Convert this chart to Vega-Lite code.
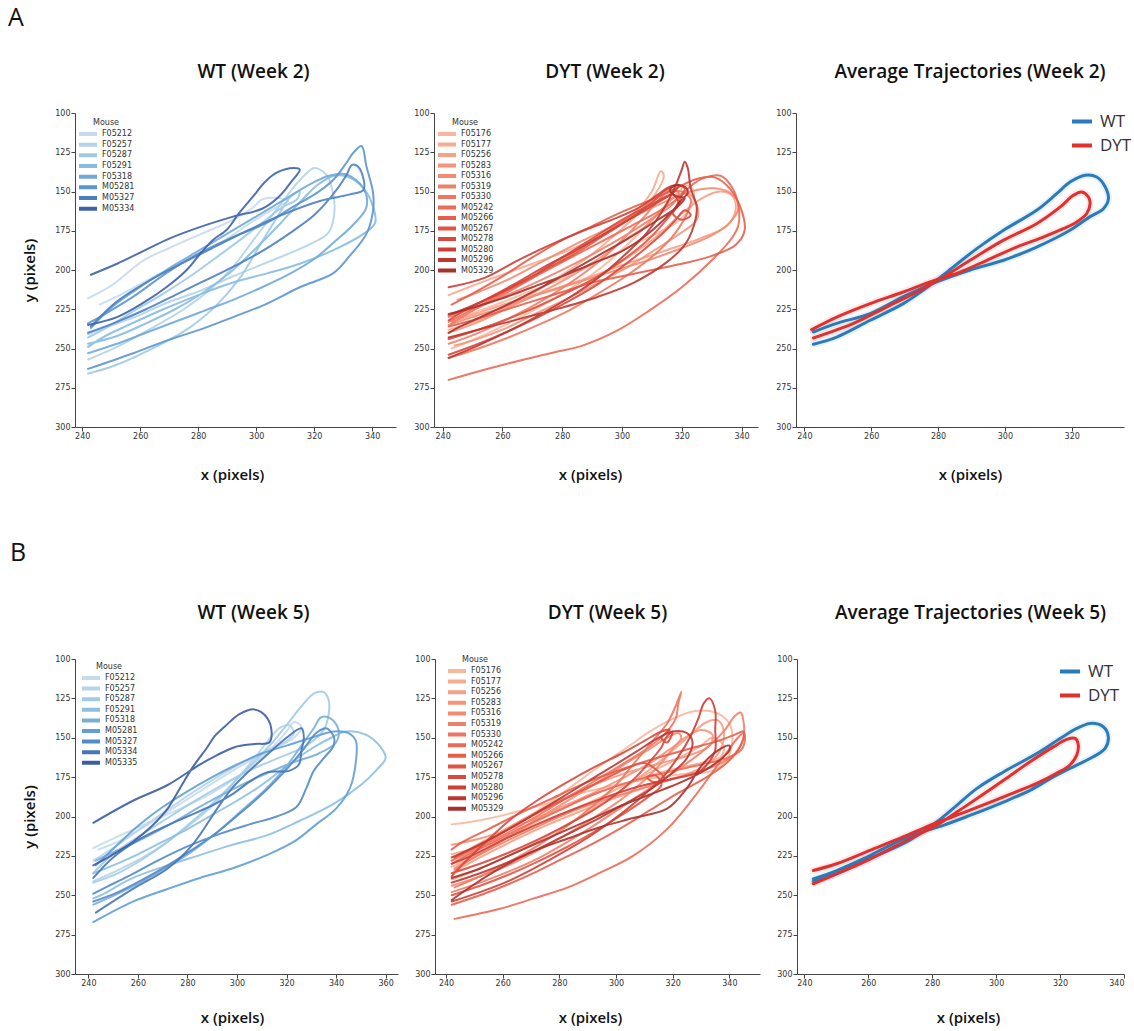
{
"$schema": "https://vega.github.io/schema/vega-lite/v6.json",
"background": "white",
"padding": {"left": 8, "top": 6, "right": 5, "bottom": 5},
"config": {
  "view": {"stroke": null},
  "font": "Open Sans",
  "axis": {"grid": false, "labelFont": "DejaVu Sans", "labelFontSize": 8, "labelColor": "#333", "domainColor": "#444", "tickColor": "#444", "tickSize": 4, "labelPadding": 1, "titleFont": "Open Sans", "titleFontSize": 15, "titleFontWeight": 600, "titleColor": "#111"},
  "axisX": {"titlePadding": 27},
  "axisY": {"titlePadding": 17},
  "title": {"font": "Open Sans", "fontSize": 19, "fontWeight": 600, "color": "#111", "offset": 27},
  "legend": {"labelFont": "DejaVu Sans", "titleFont": "DejaVu Sans", "labelColor": "#333", "titleColor": "#333"},
  "line": {"interpolate": "catmull-rom", "strokeCap": "round"}
},
"datasets": {
"a1": [
{"m":"F05212","x":242,"y":218},{"m":"F05212","x":250,"y":210},{"m":"F05212","x":261,"y":194},{"m":"F05212","x":270,"y":186},{"m":"F05212","x":281,"y":177},{"m":"F05212","x":292,"y":168},{"m":"F05212","x":299,"y":160},{"m":"F05212","x":302,"y":155},{"m":"F05212","x":306,"y":154},{"m":"F05212","x":311,"y":156},{"m":"F05212","x":306,"y":161},{"m":"F05212","x":298,"y":170},{"m":"F05212","x":290,"y":180},{"m":"F05212","x":282,"y":189},{"m":"F05212","x":273,"y":197},{"m":"F05212","x":263,"y":206},{"m":"F05212","x":254,"y":215},{"m":"F05212","x":246,"y":222},
{"m":"F05257","x":242,"y":257},{"m":"F05257","x":252,"y":249},{"m":"F05257","x":263,"y":238},{"m":"F05257","x":275,"y":225},{"m":"F05257","x":285,"y":211},{"m":"F05257","x":292,"y":198},{"m":"F05257","x":299,"y":181},{"m":"F05257","x":306,"y":164},{"m":"F05257","x":313,"y":147},{"m":"F05257","x":317,"y":139},{"m":"F05257","x":320,"y":135},{"m":"F05257","x":324,"y":139},{"m":"F05257","x":326,"y":147},{"m":"F05257","x":327,"y":162},{"m":"F05257","x":325,"y":176},{"m":"F05257","x":318,"y":184},{"m":"F05257","x":304,"y":195},{"m":"F05257","x":292,"y":204},{"m":"F05257","x":281,"y":213},{"m":"F05257","x":269,"y":221},{"m":"F05257","x":258,"y":230},{"m":"F05257","x":246,"y":238},{"m":"F05257","x":242,"y":241},
{"m":"F05287","x":242,"y":266},{"m":"F05287","x":251,"y":261},{"m":"F05287","x":262,"y":252},{"m":"F05287","x":276,"y":238},{"m":"F05287","x":286,"y":223},{"m":"F05287","x":294,"y":206},{"m":"F05287","x":301,"y":185},{"m":"F05287","x":308,"y":164},{"m":"F05287","x":312,"y":153},{"m":"F05287","x":315,"y":150},{"m":"F05287","x":314,"y":155},{"m":"F05287","x":309,"y":160},{"m":"F05287","x":302,"y":170},{"m":"F05287","x":295,"y":180},{"m":"F05287","x":287,"y":191},{"m":"F05287","x":278,"y":203},{"m":"F05287","x":268,"y":215},{"m":"F05287","x":257,"y":227},{"m":"F05287","x":249,"y":236},{"m":"F05287","x":242,"y":243},
{"m":"F05291","x":242,"y":247},{"m":"F05291","x":252,"y":242},{"m":"F05291","x":262,"y":234},{"m":"F05291","x":272,"y":225},{"m":"F05291","x":282,"y":214},{"m":"F05291","x":292,"y":200},{"m":"F05291","x":300,"y":186},{"m":"F05291","x":308,"y":171},{"m":"F05291","x":315,"y":157},{"m":"F05291","x":321,"y":146},{"m":"F05291","x":327,"y":140},{"m":"F05291","x":332,"y":141},{"m":"F05291","x":337,"y":148},{"m":"F05291","x":340,"y":158},{"m":"F05291","x":341,"y":170},{"m":"F05291","x":337,"y":177},{"m":"F05291","x":327,"y":187},{"m":"F05291","x":315,"y":196},{"m":"F05291","x":304,"y":202},{"m":"F05291","x":292,"y":208},{"m":"F05291","x":280,"y":216},{"m":"F05291","x":268,"y":225},{"m":"F05291","x":256,"y":235},{"m":"F05291","x":247,"y":243},{"m":"F05291","x":242,"y":249},
{"m":"F05318","x":242,"y":253},{"m":"F05318","x":252,"y":247},{"m":"F05318","x":262,"y":240},{"m":"F05318","x":272,"y":233},{"m":"F05318","x":282,"y":226},{"m":"F05318","x":292,"y":219},{"m":"F05318","x":302,"y":211},{"m":"F05318","x":312,"y":202},{"m":"F05318","x":320,"y":193},{"m":"F05318","x":327,"y":182},{"m":"F05318","x":333,"y":172},{"m":"F05318","x":338,"y":160},{"m":"F05318","x":337,"y":148},{"m":"F05318","x":331,"y":139},{"m":"F05318","x":325,"y":140},{"m":"F05318","x":318,"y":146},{"m":"F05318","x":309,"y":156},{"m":"F05318","x":299,"y":167},{"m":"F05318","x":289,"y":178},{"m":"F05318","x":279,"y":189},{"m":"F05318","x":269,"y":200},{"m":"F05318","x":259,"y":212},{"m":"F05318","x":250,"y":224},{"m":"F05318","x":243,"y":237},
{"m":"M05281","x":242,"y":263},{"m":"M05281","x":257.6,"y":253},{"m":"M05281","x":269,"y":245},{"m":"M05281","x":280.6,"y":238},{"m":"M05281","x":292,"y":230},{"m":"M05281","x":303,"y":222},{"m":"M05281","x":315,"y":211},{"m":"M05281","x":326.6,"y":202},{"m":"M05281","x":332,"y":191.5},{"m":"M05281","x":338,"y":177},{"m":"M05281","x":340.3,"y":162},{"m":"M05281","x":340.3,"y":151},{"m":"M05281","x":338,"y":134},{"m":"M05281","x":336.3,"y":121},{"m":"M05281","x":333.4,"y":125.5},{"m":"M05281","x":331,"y":132},{"m":"M05281","x":326.6,"y":142.5},{"m":"M05281","x":320.8,"y":151},{"m":"M05281","x":312.8,"y":159.6},{"m":"M05281","x":303.6,"y":170},{"m":"M05281","x":292,"y":179},{"m":"M05281","x":280.6,"y":189},{"m":"M05281","x":269,"y":202},{"m":"M05281","x":257.6,"y":217},{"m":"M05281","x":246,"y":230},{"m":"M05281","x":242,"y":234},
{"m":"M05327","x":242,"y":240},{"m":"M05327","x":252,"y":233},{"m":"M05327","x":262,"y":225},{"m":"M05327","x":272,"y":216},{"m":"M05327","x":282,"y":207},{"m":"M05327","x":292,"y":198},{"m":"M05327","x":302,"y":188},{"m":"M05327","x":312,"y":176},{"m":"M05327","x":320,"y":165},{"m":"M05327","x":326,"y":153},{"m":"M05327","x":331,"y":140},{"m":"M05327","x":333,"y":133},{"m":"M05327","x":335,"y":134},{"m":"M05327","x":337,"y":142},{"m":"M05327","x":337,"y":149},{"m":"M05327","x":332,"y":152},{"m":"M05327","x":322,"y":156},{"m":"M05327","x":310,"y":164},{"m":"M05327","x":298,"y":174},{"m":"M05327","x":286,"y":185},{"m":"M05327","x":274,"y":196},{"m":"M05327","x":262,"y":208},{"m":"M05327","x":252,"y":220},{"m":"M05327","x":243,"y":236},
{"m":"M05334","x":243,"y":203},{"m":"M05334","x":252,"y":196},{"m":"M05334","x":261,"y":188},{"m":"M05334","x":270,"y":180},{"m":"M05334","x":280,"y":173},{"m":"M05334","x":292,"y":166},{"m":"M05334","x":302,"y":161},{"m":"M05334","x":308,"y":153},{"m":"M05334","x":312,"y":144},{"m":"M05334","x":315,"y":136},{"m":"M05334","x":313,"y":135},{"m":"M05334","x":307,"y":138},{"m":"M05334","x":303,"y":144},{"m":"M05334","x":299,"y":153},{"m":"M05334","x":294,"y":164},{"m":"M05334","x":290,"y":174},{"m":"M05334","x":285,"y":181},{"m":"M05334","x":281,"y":189},{"m":"M05334","x":276,"y":200},{"m":"M05334","x":269,"y":211},{"m":"M05334","x":261,"y":221},{"m":"M05334","x":252,"y":230},{"m":"M05334","x":242,"y":235}
],
"a2": [
{"m":"F05176","x":243,"y":250},{"m":"F05176","x":252,"y":243},{"m":"F05176","x":262,"y":234},{"m":"F05176","x":272,"y":224},{"m":"F05176","x":282,"y":213},{"m":"F05176","x":292,"y":200},{"m":"F05176","x":300,"y":187},{"m":"F05176","x":307,"y":174},{"m":"F05176","x":313,"y":162},{"m":"F05176","x":318,"y":152},{"m":"F05176","x":322,"y":146},{"m":"F05176","x":324,"y":150},{"m":"F05176","x":323,"y":160},{"m":"F05176","x":318,"y":170},{"m":"F05176","x":308,"y":180},{"m":"F05176","x":295,"y":192},{"m":"F05176","x":282,"y":204},{"m":"F05176","x":270,"y":213},{"m":"F05176","x":258,"y":222},{"m":"F05176","x":248,"y":229},{"m":"F05176","x":243,"y":232},
{"m":"F05177","x":242,"y":216},{"m":"F05177","x":250,"y":210},{"m":"F05177","x":260,"y":203},{"m":"F05177","x":270,"y":196},{"m":"F05177","x":280,"y":189},{"m":"F05177","x":290,"y":181},{"m":"F05177","x":298,"y":172},{"m":"F05177","x":305,"y":162},{"m":"F05177","x":310,"y":150},{"m":"F05177","x":313,"y":137},{"m":"F05177","x":314,"y":140},{"m":"F05177","x":311,"y":152},{"m":"F05177","x":305,"y":165},{"m":"F05177","x":298,"y":177},{"m":"F05177","x":290,"y":190},{"m":"F05177","x":280,"y":203},{"m":"F05177","x":270,"y":215},{"m":"F05177","x":259,"y":226},{"m":"F05177","x":249,"y":234},{"m":"F05177","x":242,"y":238},
{"m":"F05256","x":242,"y":244},{"m":"F05256","x":252,"y":238},{"m":"F05256","x":262,"y":231},{"m":"F05256","x":272,"y":223},{"m":"F05256","x":282,"y":214},{"m":"F05256","x":292,"y":204},{"m":"F05256","x":302,"y":192},{"m":"F05256","x":312,"y":178},{"m":"F05256","x":320,"y":164},{"m":"F05256","x":327,"y":154},{"m":"F05256","x":333,"y":150},{"m":"F05256","x":337,"y":153},{"m":"F05256","x":338,"y":162},{"m":"F05256","x":335,"y":172},{"m":"F05256","x":326,"y":180},{"m":"F05256","x":314,"y":188},{"m":"F05256","x":300,"y":197},{"m":"F05256","x":287,"y":206},{"m":"F05256","x":274,"y":214},{"m":"F05256","x":262,"y":221},{"m":"F05256","x":251,"y":228},{"m":"F05256","x":243,"y":233},
{"m":"F05283","x":242,"y":240},{"m":"F05283","x":252,"y":233},{"m":"F05283","x":262,"y":224},{"m":"F05283","x":272,"y":215},{"m":"F05283","x":282,"y":205},{"m":"F05283","x":292,"y":193},{"m":"F05283","x":300,"y":182},{"m":"F05283","x":308,"y":172},{"m":"F05283","x":314,"y":160},{"m":"F05283","x":318,"y":153},{"m":"F05283","x":322,"y":151},{"m":"F05283","x":325,"y":158},{"m":"F05283","x":325,"y":168},{"m":"F05283","x":320,"y":176},{"m":"F05283","x":312,"y":186},{"m":"F05283","x":302,"y":198},{"m":"F05283","x":292,"y":208},{"m":"F05283","x":282,"y":218},{"m":"F05283","x":271,"y":228},{"m":"F05283","x":260,"y":238},{"m":"F05283","x":250,"y":245},{"m":"F05283","x":244,"y":248},
{"m":"F05316","x":242,"y":235},{"m":"F05316","x":250,"y":230},{"m":"F05316","x":260,"y":224},{"m":"F05316","x":270,"y":217},{"m":"F05316","x":280,"y":211},{"m":"F05316","x":290,"y":205},{"m":"F05316","x":300,"y":199},{"m":"F05316","x":310,"y":193},{"m":"F05316","x":320,"y":186},{"m":"F05316","x":330,"y":178},{"m":"F05316","x":336,"y":170},{"m":"F05316","x":339,"y":160},{"m":"F05316","x":337,"y":152},{"m":"F05316","x":331,"y":148},{"m":"F05316","x":323,"y":150},{"m":"F05316","x":315,"y":156},{"m":"F05316","x":306,"y":164},{"m":"F05316","x":296,"y":173},{"m":"F05316","x":285,"y":183},{"m":"F05316","x":273,"y":195},{"m":"F05316","x":262,"y":206},{"m":"F05316","x":252,"y":214},{"m":"F05316","x":245,"y":219},
{"m":"F05319","x":242,"y":247},{"m":"F05319","x":252,"y":240},{"m":"F05319","x":262,"y":231},{"m":"F05319","x":272,"y":221},{"m":"F05319","x":282,"y":209},{"m":"F05319","x":292,"y":195},{"m":"F05319","x":300,"y":181},{"m":"F05319","x":307,"y":167},{"m":"F05319","x":312,"y":156},{"m":"F05319","x":316,"y":149},{"m":"F05319","x":319,"y":151},{"m":"F05319","x":317,"y":158},{"m":"F05319","x":311,"y":166},{"m":"F05319","x":302,"y":177},{"m":"F05319","x":292,"y":188},{"m":"F05319","x":281,"y":199},{"m":"F05319","x":270,"y":209},{"m":"F05319","x":259,"y":218},{"m":"F05319","x":249,"y":225},{"m":"F05319","x":242,"y":230},
{"m":"F05330","x":242,"y":256},{"m":"F05330","x":252,"y":250},{"m":"F05330","x":262,"y":243},{"m":"F05330","x":272,"y":235},{"m":"F05330","x":282,"y":226},{"m":"F05330","x":292,"y":215},{"m":"F05330","x":302,"y":203},{"m":"F05330","x":311,"y":190},{"m":"F05330","x":318,"y":176},{"m":"F05330","x":322,"y":163},{"m":"F05330","x":323,"y":155},{"m":"F05330","x":320,"y":150},{"m":"F05330","x":315,"y":151},{"m":"F05330","x":309,"y":158},{"m":"F05330","x":302,"y":167},{"m":"F05330","x":293,"y":178},{"m":"F05330","x":283,"y":190},{"m":"F05330","x":272,"y":203},{"m":"F05330","x":261,"y":215},{"m":"F05330","x":251,"y":225},{"m":"F05330","x":243,"y":234},
{"m":"M05242","x":242,"y":270},{"m":"M05242","x":259,"y":261},{"m":"M05242","x":276,"y":253},{"m":"M05242","x":287,"y":248},{"m":"M05242","x":298,"y":239},{"m":"M05242","x":309,"y":226},{"m":"M05242","x":320,"y":211},{"m":"M05242","x":331,"y":192},{"m":"M05242","x":337,"y":179},{"m":"M05242","x":339,"y":171},{"m":"M05242","x":339,"y":160},{"m":"M05242","x":337,"y":148},{"m":"M05242","x":333,"y":140},{"m":"M05242","x":328,"y":141},{"m":"M05242","x":324,"y":145},{"m":"M05242","x":319,"y":154},{"m":"M05242","x":312,"y":163},{"m":"M05242","x":303,"y":172},{"m":"M05242","x":292,"y":183},{"m":"M05242","x":281,"y":194},{"m":"M05242","x":270,"y":205},{"m":"M05242","x":258,"y":217},{"m":"M05242","x":249,"y":226},{"m":"M05242","x":242,"y":233},
{"m":"M05266","x":242,"y":236},{"m":"M05266","x":250,"y":232},{"m":"M05266","x":260,"y":226},{"m":"M05266","x":270,"y":220},{"m":"M05266","x":280,"y":214},{"m":"M05266","x":290,"y":208},{"m":"M05266","x":300,"y":204},{"m":"M05266","x":310,"y":200},{"m":"M05266","x":320,"y":196},{"m":"M05266","x":330,"y":191},{"m":"M05266","x":338,"y":184},{"m":"M05266","x":341,"y":175},{"m":"M05266","x":340,"y":162},{"m":"M05266","x":336,"y":148},{"m":"M05266","x":331,"y":141},{"m":"M05266","x":325,"y":142},{"m":"M05266","x":318,"y":148},{"m":"M05266","x":310,"y":155},{"m":"M05266","x":300,"y":163},{"m":"M05266","x":290,"y":172},{"m":"M05266","x":280,"y":181},{"m":"M05266","x":270,"y":192},{"m":"M05266","x":260,"y":204},{"m":"M05266","x":250,"y":215},{"m":"M05266","x":243,"y":222},
{"m":"M05267","x":242,"y":244},{"m":"M05267","x":252,"y":238},{"m":"M05267","x":262,"y":231},{"m":"M05267","x":272,"y":223},{"m":"M05267","x":282,"y":214},{"m":"M05267","x":292,"y":204},{"m":"M05267","x":300,"y":194},{"m":"M05267","x":308,"y":182},{"m":"M05267","x":314,"y":170},{"m":"M05267","x":318,"y":160},{"m":"M05267","x":320,"y":152},{"m":"M05267","x":321,"y":148},{"m":"M05267","x":318,"y":146},{"m":"M05267","x":314,"y":150},{"m":"M05267","x":310,"y":157},{"m":"M05267","x":303,"y":167},{"m":"M05267","x":294,"y":178},{"m":"M05267","x":284,"y":190},{"m":"M05267","x":273,"y":201},{"m":"M05267","x":262,"y":212},{"m":"M05267","x":251,"y":222},{"m":"M05267","x":242,"y":229},
{"m":"M05278","x":242,"y":254},{"m":"M05278","x":252,"y":247},{"m":"M05278","x":262,"y":239},{"m":"M05278","x":272,"y":230},{"m":"M05278","x":282,"y":220},{"m":"M05278","x":292,"y":209},{"m":"M05278","x":300,"y":198},{"m":"M05278","x":308,"y":186},{"m":"M05278","x":314,"y":176},{"m":"M05278","x":318,"y":168},{"m":"M05278","x":321,"y":162},{"m":"M05278","x":323,"y":165},{"m":"M05278","x":320,"y":168},{"m":"M05278","x":317,"y":164},{"m":"M05278","x":319,"y":158},{"m":"M05278","x":317,"y":152},{"m":"M05278","x":310,"y":158},{"m":"M05278","x":300,"y":168},{"m":"M05278","x":290,"y":180},{"m":"M05278","x":280,"y":192},{"m":"M05278","x":270,"y":204},{"m":"M05278","x":259,"y":215},{"m":"M05278","x":249,"y":224},{"m":"M05278","x":242,"y":232},
{"m":"M05280","x":242,"y":211},{"m":"M05280","x":254,"y":205},{"m":"M05280","x":265,"y":194},{"m":"M05280","x":276,"y":184},{"m":"M05280","x":287,"y":175},{"m":"M05280","x":298,"y":167},{"m":"M05280","x":306,"y":160},{"m":"M05280","x":312,"y":152},{"m":"M05280","x":316,"y":147},{"m":"M05280","x":319,"y":146},{"m":"M05280","x":317,"y":151},{"m":"M05280","x":311,"y":158},{"m":"M05280","x":304,"y":166},{"m":"M05280","x":295,"y":176},{"m":"M05280","x":285,"y":187},{"m":"M05280","x":274,"y":198},{"m":"M05280","x":263,"y":210},{"m":"M05280","x":252,"y":221},{"m":"M05280","x":243,"y":228},
{"m":"M05296","x":242,"y":256},{"m":"M05296","x":252,"y":248},{"m":"M05296","x":262,"y":239},{"m":"M05296","x":272,"y":229},{"m":"M05296","x":282,"y":218},{"m":"M05296","x":292,"y":205},{"m":"M05296","x":300,"y":192},{"m":"M05296","x":308,"y":177},{"m":"M05296","x":314,"y":161},{"m":"M05296","x":318,"y":146},{"m":"M05296","x":320,"y":136},{"m":"M05296","x":321,"y":131},{"m":"M05296","x":322,"y":135},{"m":"M05296","x":323,"y":148},{"m":"M05296","x":325,"y":160},{"m":"M05296","x":324,"y":172},{"m":"M05296","x":321,"y":184},{"m":"M05296","x":315,"y":195},{"m":"M05296","x":304,"y":208},{"m":"M05296","x":292,"y":217},{"m":"M05296","x":276,"y":226},{"m":"M05296","x":260,"y":234},{"m":"M05296","x":250,"y":239},{"m":"M05296","x":242,"y":243},
{"m":"M05329","x":242,"y":228},{"m":"M05329","x":250,"y":224},{"m":"M05329","x":260,"y":218},{"m":"M05329","x":270,"y":211},{"m":"M05329","x":280,"y":204},{"m":"M05329","x":290,"y":196},{"m":"M05329","x":300,"y":188},{"m":"M05329","x":308,"y":178},{"m":"M05329","x":314,"y":168},{"m":"M05329","x":318,"y":160},{"m":"M05329","x":320,"y":155},{"m":"M05329","x":322,"y":151},{"m":"M05329","x":321,"y":147},{"m":"M05329","x":318,"y":146},{"m":"M05329","x":316,"y":149},{"m":"M05329","x":318,"y":153},{"m":"M05329","x":321,"y":154},{"m":"M05329","x":319,"y":159},{"m":"M05329","x":312,"y":168},{"m":"M05329","x":302,"y":180},{"m":"M05329","x":290,"y":193},{"m":"M05329","x":278,"y":206},{"m":"M05329","x":266,"y":218},{"m":"M05329","x":255,"y":228},{"m":"M05329","x":247,"y":235},{"m":"M05329","x":242,"y":240}
],
"a3": [
{"g":"WT","x":242.7,"y":247.3},{"g":"WT","x":249.7,"y":242.7},{"g":"WT","x":259.7,"y":232},{"g":"WT","x":269.6,"y":221.4},{"g":"WT","x":277.6,"y":209.8},{"g":"WT","x":284.6,"y":198},{"g":"WT","x":291.6,"y":186.4},{"g":"WT","x":299.6,"y":174.7},{"g":"WT","x":309.5,"y":162},{"g":"WT","x":315.5,"y":151.4},{"g":"WT","x":319.5,"y":144},{"g":"WT","x":324,"y":139.6},{"g":"WT","x":327.5,"y":140.8},{"g":"WT","x":330,"y":147},{"g":"WT","x":331,"y":154.6},{"g":"WT","x":329.5,"y":161},{"g":"WT","x":325.5,"y":166},{"g":"WT","x":319.5,"y":174.7},{"g":"WT","x":309.5,"y":185.4},{"g":"WT","x":299.6,"y":193.8},{"g":"WT","x":289.6,"y":200},{"g":"WT","x":279.6,"y":207.6},{"g":"WT","x":269.6,"y":217},{"g":"WT","x":259.7,"y":227.8},{"g":"WT","x":249.7,"y":234},{"g":"WT","x":242.7,"y":239.5},
{"g":"DYT","x":242.7,"y":243.3},{"g":"DYT","x":254.7,"y":234},{"g":"DYT","x":264.6,"y":223.6},{"g":"DYT","x":274.6,"y":213},{"g":"DYT","x":281.6,"y":204.5},{"g":"DYT","x":289.6,"y":193.8},{"g":"DYT","x":299.6,"y":181},{"g":"DYT","x":309.5,"y":170.5},{"g":"DYT","x":316.5,"y":160},{"g":"DYT","x":320.5,"y":152.4},{"g":"DYT","x":323,"y":150.3},{"g":"DYT","x":325,"y":153.5},{"g":"DYT","x":325.5,"y":157.7},{"g":"DYT","x":324.5,"y":164},{"g":"DYT","x":321.5,"y":169.4},{"g":"DYT","x":317.5,"y":173.7},{"g":"DYT","x":311.5,"y":179},{"g":"DYT","x":303.5,"y":185.4},{"g":"DYT","x":294.6,"y":193.8},{"g":"DYT","x":286.6,"y":201.3},{"g":"DYT","x":277.6,"y":207.6},{"g":"DYT","x":269.6,"y":214},{"g":"DYT","x":259.7,"y":221.4},{"g":"DYT","x":249.7,"y":230},{"g":"DYT","x":242.2,"y":238}
],
"b1": [
{"m":"F05212","x":242,"y":220},{"m":"F05212","x":250,"y":214},{"m":"F05212","x":260,"y":207},{"m":"F05212","x":270,"y":200},{"m":"F05212","x":280,"y":193},{"m":"F05212","x":290,"y":185},{"m":"F05212","x":300,"y":175},{"m":"F05212","x":308,"y":165},{"m":"F05212","x":315,"y":155},{"m":"F05212","x":320,"y":146},{"m":"F05212","x":323,"y":140},{"m":"F05212","x":326,"y":143},{"m":"F05212","x":323,"y":150},{"m":"F05212","x":316,"y":156},{"m":"F05212","x":306,"y":164},{"m":"F05212","x":295,"y":174},{"m":"F05212","x":284,"y":185},{"m":"F05212","x":273,"y":196},{"m":"F05212","x":262,"y":207},{"m":"F05212","x":252,"y":216},{"m":"F05212","x":244,"y":221},
{"m":"F05257","x":242,"y":241},{"m":"F05257","x":252,"y":234},{"m":"F05257","x":262,"y":226},{"m":"F05257","x":272,"y":216},{"m":"F05257","x":282,"y":204},{"m":"F05257","x":291,"y":192},{"m":"F05257","x":299,"y":178},{"m":"F05257","x":306,"y":165},{"m":"F05257","x":312,"y":153},{"m":"F05257","x":317,"y":144},{"m":"F05257","x":321,"y":142},{"m":"F05257","x":323,"y":147},{"m":"F05257","x":320,"y":152},{"m":"F05257","x":312,"y":158},{"m":"F05257","x":302,"y":166},{"m":"F05257","x":291,"y":176},{"m":"F05257","x":280,"y":187},{"m":"F05257","x":269,"y":199},{"m":"F05257","x":259,"y":210},{"m":"F05257","x":250,"y":220},{"m":"F05257","x":242,"y":228},
{"m":"F05287","x":242,"y":242},{"m":"F05287","x":252,"y":236},{"m":"F05287","x":262,"y":227},{"m":"F05287","x":272,"y":216},{"m":"F05287","x":282,"y":203},{"m":"F05287","x":292,"y":189},{"m":"F05287","x":302,"y":173},{"m":"F05287","x":312,"y":157},{"m":"F05287","x":320,"y":142},{"m":"F05287","x":326,"y":130},{"m":"F05287","x":331,"y":122},{"m":"F05287","x":335,"y":121},{"m":"F05287","x":337,"y":126},{"m":"F05287","x":337,"y":135},{"m":"F05287","x":335,"y":145},{"m":"F05287","x":328,"y":155},{"m":"F05287","x":318,"y":162},{"m":"F05287","x":306,"y":170},{"m":"F05287","x":294,"y":180},{"m":"F05287","x":282,"y":191},{"m":"F05287","x":270,"y":203},{"m":"F05287","x":259,"y":214},{"m":"F05287","x":249,"y":225},{"m":"F05287","x":242,"y":236},
{"m":"F05291","x":242,"y":236},{"m":"F05291","x":250,"y":231},{"m":"F05291","x":260,"y":224},{"m":"F05291","x":270,"y":216},{"m":"F05291","x":280,"y":208},{"m":"F05291","x":290,"y":199},{"m":"F05291","x":300,"y":190},{"m":"F05291","x":310,"y":180},{"m":"F05291","x":320,"y":168},{"m":"F05291","x":330,"y":157},{"m":"F05291","x":338,"y":150},{"m":"F05291","x":344,"y":146},{"m":"F05291","x":352,"y":148},{"m":"F05291","x":358,"y":156},{"m":"F05291","x":360,"y":163},{"m":"F05291","x":356,"y":171},{"m":"F05291","x":350,"y":180},{"m":"F05291","x":339,"y":192},{"m":"F05291","x":325,"y":203},{"m":"F05291","x":312,"y":212},{"m":"F05291","x":298,"y":218},{"m":"F05291","x":285,"y":224.5},{"m":"F05291","x":272,"y":231},{"m":"F05291","x":258,"y":239},{"m":"F05291","x":245,"y":250},{"m":"F05291","x":242,"y":252},
{"m":"F05318","x":242,"y":256},{"m":"F05318","x":252,"y":249},{"m":"F05318","x":262,"y":241},{"m":"F05318","x":272,"y":232},{"m":"F05318","x":282,"y":222},{"m":"F05318","x":292,"y":210},{"m":"F05318","x":302,"y":196},{"m":"F05318","x":312,"y":182},{"m":"F05318","x":320,"y":168},{"m":"F05318","x":326,"y":155},{"m":"F05318","x":331,"y":144},{"m":"F05318","x":334,"y":137},{"m":"F05318","x":338,"y":138},{"m":"F05318","x":341,"y":145},{"m":"F05318","x":340,"y":153},{"m":"F05318","x":333,"y":160},{"m":"F05318","x":322,"y":166},{"m":"F05318","x":310,"y":174},{"m":"F05318","x":298,"y":183},{"m":"F05318","x":286,"y":193},{"m":"F05318","x":274,"y":204},{"m":"F05318","x":262,"y":214},{"m":"F05318","x":251,"y":222},{"m":"F05318","x":243,"y":228},
{"m":"M05281","x":242,"y":267},{"m":"M05281","x":258,"y":254},{"m":"M05281","x":272,"y":246},{"m":"M05281","x":285,"y":239},{"m":"M05281","x":298,"y":233},{"m":"M05281","x":312,"y":224.5},{"m":"M05281","x":323,"y":216},{"m":"M05281","x":332,"y":205},{"m":"M05281","x":340,"y":195},{"m":"M05281","x":345.6,"y":182},{"m":"M05281","x":348,"y":165},{"m":"M05281","x":348,"y":152},{"m":"M05281","x":345,"y":147},{"m":"M05281","x":339,"y":146},{"m":"M05281","x":330,"y":150},{"m":"M05281","x":320,"y":155},{"m":"M05281","x":310,"y":160},{"m":"M05281","x":300,"y":167},{"m":"M05281","x":290,"y":175},{"m":"M05281","x":280,"y":184},{"m":"M05281","x":270,"y":194},{"m":"M05281","x":260,"y":206},{"m":"M05281","x":251,"y":219},{"m":"M05281","x":243,"y":231},
{"m":"M05327","x":242,"y":254},{"m":"M05327","x":252,"y":248},{"m":"M05327","x":262,"y":240},{"m":"M05327","x":272,"y":231},{"m":"M05327","x":282,"y":221},{"m":"M05327","x":292,"y":210},{"m":"M05327","x":302,"y":197},{"m":"M05327","x":312,"y":183},{"m":"M05327","x":320,"y":170},{"m":"M05327","x":327,"y":157},{"m":"M05327","x":332,"y":147},{"m":"M05327","x":336,"y":144},{"m":"M05327","x":339,"y":149},{"m":"M05327","x":339,"y":155},{"m":"M05327","x":335,"y":163},{"m":"M05327","x":331,"y":171},{"m":"M05327","x":328,"y":182},{"m":"M05327","x":324,"y":194},{"m":"M05327","x":316,"y":200},{"m":"M05327","x":305,"y":205},{"m":"M05327","x":293,"y":211},{"m":"M05327","x":280,"y":219},{"m":"M05327","x":268,"y":228},{"m":"M05327","x":256,"y":238},{"m":"M05327","x":247,"y":245},{"m":"M05327","x":242,"y":249},
{"m":"M05334","x":243,"y":261},{"m":"M05334","x":258,"y":246},{"m":"M05334","x":272,"y":233},{"m":"M05334","x":282,"y":218},{"m":"M05334","x":292,"y":195},{"m":"M05334","x":298,"y":182},{"m":"M05334","x":305,"y":171},{"m":"M05334","x":312,"y":161},{"m":"M05334","x":320,"y":150},{"m":"M05334","x":326,"y":144},{"m":"M05334","x":327,"y":150},{"m":"M05334","x":326,"y":158},{"m":"M05334","x":325,"y":167},{"m":"M05334","x":321,"y":171},{"m":"M05334","x":312,"y":172},{"m":"M05334","x":305,"y":178},{"m":"M05334","x":298,"y":186},{"m":"M05334","x":290,"y":193},{"m":"M05334","x":280,"y":200},{"m":"M05334","x":270,"y":207},{"m":"M05334","x":260,"y":215},{"m":"M05334","x":250,"y":226},{"m":"M05334","x":242,"y":239},
{"m":"M05335","x":242,"y":204},{"m":"M05335","x":258,"y":190},{"m":"M05335","x":272,"y":180},{"m":"M05335","x":285,"y":167},{"m":"M05335","x":292,"y":161},{"m":"M05335","x":299,"y":156},{"m":"M05335","x":307,"y":154},{"m":"M05335","x":313,"y":153},{"m":"M05335","x":314,"y":147},{"m":"M05335","x":312,"y":137},{"m":"M05335","x":307,"y":132},{"m":"M05335","x":301,"y":135},{"m":"M05335","x":295,"y":143},{"m":"M05335","x":291,"y":149},{"m":"M05335","x":288,"y":156},{"m":"M05335","x":282,"y":169},{"m":"M05335","x":277,"y":182},{"m":"M05335","x":272,"y":195},{"m":"M05335","x":265,"y":207},{"m":"M05335","x":258,"y":216},{"m":"M05335","x":249,"y":225},{"m":"M05335","x":242,"y":231}
],
"b2": [
{"m":"F05176","x":242,"y":205},{"m":"F05176","x":253,"y":202},{"m":"F05176","x":265,"y":197},{"m":"F05176","x":277,"y":191},{"m":"F05176","x":288,"y":185},{"m":"F05176","x":300,"y":180},{"m":"F05176","x":312,"y":176},{"m":"F05176","x":324,"y":173},{"m":"F05176","x":334,"y":171},{"m":"F05176","x":339,"y":164},{"m":"F05176","x":341,"y":152},{"m":"F05176","x":340,"y":141},{"m":"F05176","x":335,"y":134},{"m":"F05176","x":328,"y":133},{"m":"F05176","x":320,"y":138},{"m":"F05176","x":312,"y":146},{"m":"F05176","x":304,"y":156},{"m":"F05176","x":295,"y":167},{"m":"F05176","x":285,"y":180},{"m":"F05176","x":275,"y":193},{"m":"F05176","x":264,"y":206},{"m":"F05176","x":253,"y":219},{"m":"F05176","x":244,"y":230},
{"m":"F05177","x":242,"y":224},{"m":"F05177","x":252,"y":219},{"m":"F05177","x":262,"y":213},{"m":"F05177","x":272,"y":206},{"m":"F05177","x":282,"y":198},{"m":"F05177","x":292,"y":190},{"m":"F05177","x":302,"y":181},{"m":"F05177","x":312,"y":172},{"m":"F05177","x":322,"y":163},{"m":"F05177","x":330,"y":155},{"m":"F05177","x":334,"y":150},{"m":"F05177","x":338,"y":155},{"m":"F05177","x":337,"y":162},{"m":"F05177","x":330,"y":166},{"m":"F05177","x":318,"y":171},{"m":"F05177","x":305,"y":178},{"m":"F05177","x":292,"y":186},{"m":"F05177","x":280,"y":196},{"m":"F05177","x":268,"y":207},{"m":"F05177","x":257,"y":218},{"m":"F05177","x":248,"y":227},{"m":"F05177","x":242,"y":232},
{"m":"F05256","x":242,"y":240},{"m":"F05256","x":252,"y":233},{"m":"F05256","x":262,"y":225},{"m":"F05256","x":272,"y":216},{"m":"F05256","x":282,"y":206},{"m":"F05256","x":292,"y":195},{"m":"F05256","x":302,"y":183},{"m":"F05256","x":312,"y":170},{"m":"F05256","x":320,"y":158},{"m":"F05256","x":327,"y":147},{"m":"F05256","x":332,"y":140},{"m":"F05256","x":336,"y":139},{"m":"F05256","x":338,"y":146},{"m":"F05256","x":337,"y":157},{"m":"F05256","x":333,"y":166},{"m":"F05256","x":325,"y":173},{"m":"F05256","x":313,"y":180},{"m":"F05256","x":300,"y":188},{"m":"F05256","x":287,"y":197},{"m":"F05256","x":275,"y":206},{"m":"F05256","x":263,"y":216},{"m":"F05256","x":252,"y":226},{"m":"F05256","x":243,"y":235},
{"m":"F05283","x":242,"y":218},{"m":"F05283","x":252,"y":214},{"m":"F05283","x":262,"y":208},{"m":"F05283","x":272,"y":201},{"m":"F05283","x":282,"y":193},{"m":"F05283","x":292,"y":185},{"m":"F05283","x":302,"y":176},{"m":"F05283","x":312,"y":166},{"m":"F05283","x":320,"y":156},{"m":"F05283","x":326,"y":148},{"m":"F05283","x":330,"y":145},{"m":"F05283","x":334,"y":148},{"m":"F05283","x":333,"y":155},{"m":"F05283","x":326,"y":161},{"m":"F05283","x":316,"y":166},{"m":"F05283","x":304,"y":172},{"m":"F05283","x":292,"y":180},{"m":"F05283","x":280,"y":190},{"m":"F05283","x":268,"y":201},{"m":"F05283","x":257,"y":212},{"m":"F05283","x":248,"y":221},{"m":"F05283","x":242,"y":228},
{"m":"F05316","x":242,"y":244},{"m":"F05316","x":252,"y":238},{"m":"F05316","x":262,"y":231},{"m":"F05316","x":272,"y":222},{"m":"F05316","x":282,"y":212},{"m":"F05316","x":292,"y":201},{"m":"F05316","x":302,"y":189},{"m":"F05316","x":310,"y":177},{"m":"F05316","x":316,"y":166},{"m":"F05316","x":320,"y":157},{"m":"F05316","x":323,"y":150},{"m":"F05316","x":322,"y":147},{"m":"F05316","x":318,"y":150},{"m":"F05316","x":311,"y":158},{"m":"F05316","x":302,"y":168},{"m":"F05316","x":292,"y":180},{"m":"F05316","x":282,"y":191},{"m":"F05316","x":271,"y":203},{"m":"F05316","x":260,"y":215},{"m":"F05316","x":250,"y":226},{"m":"F05316","x":243,"y":234},
{"m":"F05319","x":242,"y":248},{"m":"F05319","x":252,"y":242},{"m":"F05319","x":262,"y":235},{"m":"F05319","x":272,"y":227},{"m":"F05319","x":282,"y":217},{"m":"F05319","x":292,"y":206},{"m":"F05319","x":302,"y":194},{"m":"F05319","x":312,"y":182},{"m":"F05319","x":322,"y":170},{"m":"F05319","x":331,"y":158},{"m":"F05319","x":338,"y":146},{"m":"F05319","x":342,"y":136},{"m":"F05319","x":344,"y":134},{"m":"F05319","x":345,"y":140},{"m":"F05319","x":345,"y":150},{"m":"F05319","x":342,"y":160},{"m":"F05319","x":336,"y":167},{"m":"F05319","x":326,"y":173},{"m":"F05319","x":313,"y":180},{"m":"F05319","x":300,"y":187},{"m":"F05319","x":287,"y":195},{"m":"F05319","x":274,"y":205},{"m":"F05319","x":262,"y":215},{"m":"F05319","x":251,"y":225},{"m":"F05319","x":243,"y":233},
{"m":"F05330","x":243,"y":245},{"m":"F05330","x":252,"y":238},{"m":"F05330","x":262,"y":229},{"m":"F05330","x":272,"y":219},{"m":"F05330","x":282,"y":207},{"m":"F05330","x":292,"y":193},{"m":"F05330","x":300,"y":180},{"m":"F05330","x":306,"y":167},{"m":"F05330","x":312,"y":154},{"m":"F05330","x":318,"y":141},{"m":"F05330","x":321,"y":130},{"m":"F05330","x":323,"y":121},{"m":"F05330","x":322,"y":128},{"m":"F05330","x":321,"y":138},{"m":"F05330","x":317,"y":148},{"m":"F05330","x":310,"y":158},{"m":"F05330","x":302,"y":167},{"m":"F05330","x":292,"y":178},{"m":"F05330","x":281,"y":190},{"m":"F05330","x":270,"y":202},{"m":"F05330","x":259,"y":213},{"m":"F05330","x":249,"y":222},{"m":"F05330","x":242,"y":228},
{"m":"M05242","x":243,"y":265},{"m":"M05242","x":259,"y":258.6},{"m":"M05242","x":271,"y":252},{"m":"M05242","x":283,"y":245},{"m":"M05242","x":294,"y":236},{"m":"M05242","x":306,"y":225},{"m":"M05242","x":318,"y":208},{"m":"M05242","x":327,"y":189},{"m":"M05242","x":334,"y":172},{"m":"M05242","x":340,"y":157},{"m":"M05242","x":343,"y":150},{"m":"M05242","x":345,"y":147},{"m":"M05242","x":345.5,"y":151},{"m":"M05242","x":344,"y":158},{"m":"M05242","x":339,"y":163},{"m":"M05242","x":330,"y":167},{"m":"M05242","x":318,"y":172},{"m":"M05242","x":305,"y":178},{"m":"M05242","x":292,"y":186},{"m":"M05242","x":280,"y":196},{"m":"M05242","x":268,"y":206},{"m":"M05242","x":256,"y":217},{"m":"M05242","x":247,"y":225},{"m":"M05242","x":242,"y":230},
{"m":"M05266","x":242,"y":256},{"m":"M05266","x":252,"y":250},{"m":"M05266","x":262,"y":243},{"m":"M05266","x":272,"y":235},{"m":"M05266","x":282,"y":226},{"m":"M05266","x":292,"y":217},{"m":"M05266","x":302,"y":207},{"m":"M05266","x":312,"y":196},{"m":"M05266","x":322,"y":185},{"m":"M05266","x":332,"y":175},{"m":"M05266","x":339,"y":166},{"m":"M05266","x":343,"y":158},{"m":"M05266","x":345,"y":150},{"m":"M05266","x":345,"y":146},{"m":"M05266","x":342,"y":148},{"m":"M05266","x":336,"y":152},{"m":"M05266","x":326,"y":157},{"m":"M05266","x":314,"y":163},{"m":"M05266","x":302,"y":170},{"m":"M05266","x":290,"y":178},{"m":"M05266","x":278,"y":188},{"m":"M05266","x":266,"y":198},{"m":"M05266","x":255,"y":208},{"m":"M05266","x":246,"y":216},{"m":"M05266","x":242,"y":221},
{"m":"M05267","x":242,"y":250},{"m":"M05267","x":252,"y":244},{"m":"M05267","x":262,"y":237},{"m":"M05267","x":272,"y":229},{"m":"M05267","x":282,"y":220},{"m":"M05267","x":292,"y":210},{"m":"M05267","x":302,"y":199},{"m":"M05267","x":311,"y":188},{"m":"M05267","x":316,"y":180},{"m":"M05267","x":314,"y":174},{"m":"M05267","x":311,"y":175},{"m":"M05267","x":313,"y":178},{"m":"M05267","x":317,"y":176},{"m":"M05267","x":314,"y":170},{"m":"M05267","x":310,"y":166},{"m":"M05267","x":303,"y":170},{"m":"M05267","x":294,"y":178},{"m":"M05267","x":284,"y":187},{"m":"M05267","x":273,"y":197},{"m":"M05267","x":262,"y":208},{"m":"M05267","x":252,"y":218},{"m":"M05267","x":243,"y":226},
{"m":"M05278","x":242,"y":236},{"m":"M05278","x":252,"y":230},{"m":"M05278","x":262,"y":223},{"m":"M05278","x":272,"y":215},{"m":"M05278","x":282,"y":206},{"m":"M05278","x":292,"y":196},{"m":"M05278","x":300,"y":186},{"m":"M05278","x":307,"y":175},{"m":"M05278","x":312,"y":165},{"m":"M05278","x":316,"y":156},{"m":"M05278","x":318,"y":149},{"m":"M05278","x":320,"y":146},{"m":"M05278","x":318,"y":153},{"m":"M05278","x":316,"y":150},{"m":"M05278","x":319,"y":145},{"m":"M05278","x":316,"y":146},{"m":"M05278","x":310,"y":152},{"m":"M05278","x":302,"y":160},{"m":"M05278","x":292,"y":169},{"m":"M05278","x":282,"y":179},{"m":"M05278","x":272,"y":190},{"m":"M05278","x":262,"y":203},{"m":"M05278","x":253,"y":218},{"m":"M05278","x":245,"y":232},{"m":"M05278","x":242,"y":238},
{"m":"M05280","x":242,"y":254},{"m":"M05280","x":252,"y":248},{"m":"M05280","x":262,"y":241},{"m":"M05280","x":272,"y":232},{"m":"M05280","x":282,"y":222},{"m":"M05280","x":292,"y":211},{"m":"M05280","x":302,"y":198},{"m":"M05280","x":310,"y":186},{"m":"M05280","x":317,"y":174},{"m":"M05280","x":322,"y":162},{"m":"M05280","x":326,"y":150},{"m":"M05280","x":329,"y":138},{"m":"M05280","x":331,"y":128},{"m":"M05280","x":333,"y":125},{"m":"M05280","x":335,"y":133},{"m":"M05280","x":335,"y":145},{"m":"M05280","x":335,"y":158},{"m":"M05280","x":333,"y":165},{"m":"M05280","x":329,"y":172},{"m":"M05280","x":320,"y":176},{"m":"M05280","x":308,"y":181},{"m":"M05280","x":296,"y":188},{"m":"M05280","x":284,"y":196},{"m":"M05280","x":272,"y":205},{"m":"M05280","x":260,"y":215},{"m":"M05280","x":250,"y":224},{"m":"M05280","x":242,"y":230},
{"m":"M05296","x":242,"y":242},{"m":"M05296","x":252,"y":236},{"m":"M05296","x":262,"y":229},{"m":"M05296","x":272,"y":221},{"m":"M05296","x":282,"y":212},{"m":"M05296","x":292,"y":203},{"m":"M05296","x":302,"y":193},{"m":"M05296","x":312,"y":183},{"m":"M05296","x":320,"y":172},{"m":"M05296","x":325,"y":163},{"m":"M05296","x":327,"y":153},{"m":"M05296","x":325,"y":147},{"m":"M05296","x":320,"y":146},{"m":"M05296","x":314,"y":151},{"m":"M05296","x":307,"y":159},{"m":"M05296","x":298,"y":169},{"m":"M05296","x":288,"y":180},{"m":"M05296","x":278,"y":191},{"m":"M05296","x":267,"y":203},{"m":"M05296","x":256,"y":214},{"m":"M05296","x":247,"y":222},{"m":"M05296","x":242,"y":226},
{"m":"M05329","x":242,"y":239},{"m":"M05329","x":252,"y":233},{"m":"M05329","x":262,"y":225},{"m":"M05329","x":272,"y":217},{"m":"M05329","x":282,"y":209},{"m":"M05329","x":292,"y":201},{"m":"M05329","x":302,"y":193},{"m":"M05329","x":312,"y":186},{"m":"M05329","x":322,"y":179},{"m":"M05329","x":330,"y":172},{"m":"M05329","x":336,"y":165},{"m":"M05329","x":340,"y":158},{"m":"M05329","x":340,"y":155},{"m":"M05329","x":336,"y":158},{"m":"M05329","x":330,"y":168},{"m":"M05329","x":325,"y":182},{"m":"M05329","x":318,"y":195},{"m":"M05329","x":306,"y":201},{"m":"M05329","x":294,"y":207},{"m":"M05329","x":283,"y":214},{"m":"M05329","x":271,"y":222},{"m":"M05329","x":259,"y":233},{"m":"M05329","x":250,"y":243},{"m":"M05329","x":242,"y":253}
],
"b3": [
{"g":"WT","x":242.8,"y":241},{"g":"WT","x":250.1,"y":236.4},{"g":"WT","x":260.5,"y":226.8},{"g":"WT","x":270.9,"y":217.3},{"g":"WT","x":276.2,"y":210.9},{"g":"WT","x":281.4,"y":203.5},{"g":"WT","x":287.7,"y":192.9},{"g":"WT","x":293.9,"y":182.3},{"g":"WT","x":302.3,"y":171.7},{"g":"WT","x":312.7,"y":160},{"g":"WT","x":320,"y":150.5},{"g":"WT","x":325.2,"y":144.1},{"g":"WT","x":329.4,"y":140.9},{"g":"WT","x":333.5,"y":143},{"g":"WT","x":335.1,"y":149.4},{"g":"WT","x":334.1,"y":156.8},{"g":"WT","x":330.4,"y":162.1},{"g":"WT","x":325.2,"y":167.4},{"g":"WT","x":317.9,"y":174.9},{"g":"WT","x":310.6,"y":183.4},{"g":"WT","x":302.3,"y":190.8},{"g":"WT","x":291.8,"y":199.3},{"g":"WT","x":283.5,"y":205.6},{"g":"WT","x":275.1,"y":210.9},{"g":"WT","x":266.8,"y":218.3},{"g":"WT","x":258.5,"y":226.8},{"g":"WT","x":250.1,"y":234.3},{"g":"WT","x":242.8,"y":239.6},
{"g":"DYT","x":242.8,"y":234.3},{"g":"DYT","x":250.1,"y":230},{"g":"DYT","x":260.5,"y":221.5},{"g":"DYT","x":270.9,"y":213},{"g":"DYT","x":279.3,"y":205.6},{"g":"DYT","x":286.6,"y":200},{"g":"DYT","x":291.8,"y":196},{"g":"DYT","x":302.3,"y":187.5},{"g":"DYT","x":312.7,"y":179},{"g":"DYT","x":318.9,"y":172.6},{"g":"DYT","x":323.1,"y":167.3},{"g":"DYT","x":325.2,"y":161},{"g":"DYT","x":325.7,"y":154.6},{"g":"DYT","x":324.7,"y":150.4},{"g":"DYT","x":322.1,"y":151},{"g":"DYT","x":317.9,"y":155.8},{"g":"DYT","x":310.6,"y":165.3},{"g":"DYT","x":302.3,"y":177},{"g":"DYT","x":293.9,"y":188.7},{"g":"DYT","x":287.7,"y":197.2},{"g":"DYT","x":281.4,"y":205.6},{"g":"DYT","x":275.1,"y":212},{"g":"DYT","x":266.8,"y":220.5},{"g":"DYT","x":258.5,"y":229},{"g":"DYT","x":250.1,"y":236.4},{"g":"DYT","x":242.8,"y":242.7}
]
},
"vconcat": [
{
 "title": {"text": "A", "anchor": "start", "frame": "group", "fontSize": 25, "fontWeight": 500, "offset": 32, "dx": -67},
 "spacing": 38, "bounds": "flush",
 "resolve": {"scale": {"color": "independent"}},
 "hconcat": [
  {
   "width": 321, "height": 314,
   "title": {"text": "WT (Week 2)", "frame": "group", "dx": 18},
   "data": {"name": "a1"},
   "mark": {"type": "line", "strokeWidth": 2, "opacity": 0.9, "clip": true},
   "encoding": {
    "x": {"field": "x", "type": "quantitative", "scale": {"domain": [237.5, 348.2], "nice": false, "zero": false}, "axis": {"values": [240, 260, 280, 300, 320, 340], "title": "x (pixels)", "titleX": 157}},
    "y": {"field": "y", "type": "quantitative", "scale": {"domain": [100, 300], "reverse": true, "nice": false, "zero": false}, "axis": {"values": [100, 125, 150, 175, 200, 225, 250, 275, 300], "title": "y (pixels)"}},
    "color": {"field": "m", "type": "nominal", "scale": {"domain": ["F05212","F05257","F05287","F05291","F05318","M05281","M05327","M05334"], "range": ["#c6dbef","#b3d3ea","#9fcae5","#87bbdf","#70a9d8","#5c95cd","#4b7fc0","#3d62aa"]},
      "legend": {"title": "Mouse", "orient": "none", "legendX": 2, "legendY": 6, "padding": 0, "symbolType": "stroke", "symbolSize": 324, "symbolStrokeWidth": 4, "symbolOpacity": 1, "labelFontSize": 8, "titleFontSize": 8, "titleFontWeight": "normal", "titleAnchor": "middle", "titlePadding": 2, "clipHeight": 10, "rowPadding": 0.67, "labelOffset": 3}},
    "order": {"value": null}
   }
  },
  {
   "width": 324, "height": 314,
   "title": {"text": "DYT (Week 2)", "frame": "group", "dx": 9},
   "data": {"name": "a2"},
   "mark": {"type": "line", "strokeWidth": 2, "opacity": 0.9, "clip": true},
   "encoding": {
    "x": {"field": "x", "type": "quantitative", "scale": {"domain": [237.1, 345.5], "nice": false, "zero": false}, "axis": {"values": [240, 260, 280, 300, 320, 340], "title": "x (pixels)", "titleX": 156}},
    "y": {"field": "y", "type": "quantitative", "scale": {"domain": [100, 300], "reverse": true, "nice": false, "zero": false}, "axis": {"values": [100, 125, 150, 175, 200, 225, 250, 275, 300], "title": null}},
    "color": {"field": "m", "type": "nominal", "scale": {"domain": ["F05176","F05177","F05256","F05283","F05316","F05319","F05330","M05242","M05266","M05267","M05278","M05280","M05296","M05329"], "range": ["#f9b89e","#f8ab90","#f7a086","#f5947b","#f38b72","#f1806a","#ef7561","#ec6a56","#e85e4b","#e25343","#d9483c","#cd3f36","#be3731","#ab302c"]},
      "legend": {"title": "Mouse", "orient": "none", "legendX": 2, "legendY": 6, "padding": 0, "symbolType": "stroke", "symbolSize": 324, "symbolStrokeWidth": 4, "symbolOpacity": 1, "labelFontSize": 8, "titleFontSize": 8, "titleFontWeight": "normal", "titleAnchor": "middle", "titlePadding": 2, "clipHeight": 10, "rowPadding": 0.5, "labelOffset": 3}},
    "order": {"value": null}
   }
  },
  {
   "width": 328, "height": 314,
   "title": {"text": "Average Trajectories (Week 2)", "frame": "group", "dx": 10},
   "data": {"name": "a3"},
   "encoding": {
    "x": {"field": "x", "type": "quantitative", "scale": {"domain": [237.5, 335.65], "nice": false, "zero": false}, "axis": {"values": [240, 260, 280, 300, 320], "title": "x (pixels)", "titleX": 174}},
    "y": {"field": "y", "type": "quantitative", "scale": {"domain": [100, 300], "reverse": true, "nice": false, "zero": false}, "axis": {"values": [100, 125, 150, 175, 200, 225, 250, 275, 300], "title": null}},
    "color": {"field": "g", "type": "nominal", "scale": {"domain": ["WT", "DYT"], "range": ["#2b7bba", "#e0312f"]},
      "legend": {"title": null, "orient": "none", "legendX": 274, "legendY": 0, "padding": 0, "symbolType": "stroke", "symbolSize": 400, "symbolStrokeWidth": 4, "symbolOpacity": 1, "labelFont": "Open Sans", "labelFontSize": 17, "labelColor": "#333", "clipHeight": 17, "rowPadding": 6, "labelOffset": 6}},
    "order": {"value": null}
   },
   "layer": [
    {"mark": {"type": "line", "strokeWidth": 7, "opacity": 0.1, "clip": true}},
    {"mark": {"type": "line", "strokeWidth": 3, "clip": true}}
   ]
  }
 ]
},
{
 "title": {"text": "B", "anchor": "start", "frame": "group", "fontSize": 25, "fontWeight": 500, "offset": 38, "dx": -65},
 "spacing": 37, "bounds": "flush",
 "resolve": {"scale": {"color": "independent"}},
 "hconcat": [
  {
   "width": 323, "height": 315,
   "title": {"text": "WT (Week 5)", "frame": "group", "dx": 17, "offset": 32},
   "data": {"name": "b1"},
   "mark": {"type": "line", "strokeWidth": 2, "opacity": 0.9, "clip": true},
   "encoding": {
    "x": {"field": "x", "type": "quantitative", "scale": {"domain": [234.6, 365], "nice": false, "zero": false}, "axis": {"values": [240, 260, 280, 300, 320, 340, 360], "title": "x (pixels)", "titleX": 157, "titlePadding": 23}},
    "y": {"field": "y", "type": "quantitative", "scale": {"domain": [100, 300], "reverse": true, "nice": false, "zero": false}, "axis": {"values": [100, 125, 150, 175, 200, 225, 250, 275, 300], "title": "y (pixels)"}},
    "color": {"field": "m", "type": "nominal", "scale": {"domain": ["F05212","F05257","F05287","F05291","F05318","M05281","M05327","M05334","M05335"], "range": ["#c6dbef","#b5d4eb","#a2cbe6","#8dbfe1","#77afda","#639ed2","#538bc7","#4676b9","#3b5ca6"]},
      "legend": {"title": "Mouse", "orient": "none", "legendX": 5, "legendY": 4, "padding": 0, "symbolType": "stroke", "symbolSize": 324, "symbolStrokeWidth": 4, "symbolOpacity": 1, "labelFontSize": 8, "titleFontSize": 8, "titleFontWeight": "normal", "titleAnchor": "middle", "titlePadding": 2, "clipHeight": 10, "rowPadding": 0.6, "labelOffset": 3}},
    "order": {"value": null}
   }
  },
  {
   "width": 325, "height": 315,
   "title": {"text": "DYT  (Week 5)", "frame": "group", "dx": 10, "offset": 32},
   "data": {"name": "b2"},
   "mark": {"type": "line", "strokeWidth": 2, "opacity": 0.9, "clip": true},
   "encoding": {
    "x": {"field": "x", "type": "quantitative", "scale": {"domain": [236.1, 350.8], "nice": false, "zero": false}, "axis": {"values": [240, 260, 280, 300, 320, 340], "title": "x (pixels)", "titleX": 155, "titlePadding": 23}},
    "y": {"field": "y", "type": "quantitative", "scale": {"domain": [100, 300], "reverse": true, "nice": false, "zero": false}, "axis": {"values": [100, 125, 150, 175, 200, 225, 250, 275, 300], "title": null}},
    "color": {"field": "m", "type": "nominal", "scale": {"domain": ["F05176","F05177","F05256","F05283","F05316","F05319","F05330","M05242","M05266","M05267","M05278","M05280","M05296","M05329"], "range": ["#f9b89e","#f8ab90","#f7a086","#f5947b","#f38b72","#f1806a","#ef7561","#ec6a56","#e85e4b","#e25343","#d9483c","#cd3f36","#be3731","#ab302c"]},
      "legend": {"title": "Mouse", "orient": "none", "legendX": 11, "legendY": -3, "padding": 0, "symbolType": "stroke", "symbolSize": 324, "symbolStrokeWidth": 4, "symbolOpacity": 1, "labelFontSize": 8, "titleFontSize": 8, "titleFontWeight": "normal", "titleAnchor": "middle", "titlePadding": 2, "clipHeight": 10, "rowPadding": 0.6, "labelOffset": 3}},
    "order": {"value": null}
   }
  },
  {
   "width": 327, "height": 315,
   "title": {"text": "Average Trajectories (Week 5)", "frame": "group", "dx": 10, "offset": 32},
   "data": {"name": "b3"},
   "encoding": {
    "x": {"field": "x", "type": "quantitative", "scale": {"domain": [237.7, 340], "nice": false, "zero": false}, "axis": {"values": [240, 260, 280, 300, 320, 340], "title": "x (pixels)", "titleX": 171, "titlePadding": 23}},
    "y": {"field": "y", "type": "quantitative", "scale": {"domain": [100, 300], "reverse": true, "nice": false, "zero": false}, "axis": {"values": [100, 125, 150, 175, 200, 225, 250, 275, 300], "title": null}},
    "color": {"field": "g", "type": "nominal", "scale": {"domain": ["WT", "DYT"], "range": ["#2b7bba", "#e0312f"]},
      "legend": {"title": null, "orient": "none", "legendX": 261, "legendY": 4, "padding": 0, "symbolType": "stroke", "symbolSize": 400, "symbolStrokeWidth": 4, "symbolOpacity": 1, "labelFont": "Open Sans", "labelFontSize": 17, "labelColor": "#333", "clipHeight": 17, "rowPadding": 6, "labelOffset": 6}},
    "order": {"value": null}
   },
   "layer": [
    {"mark": {"type": "line", "strokeWidth": 7, "opacity": 0.1, "clip": true}},
    {"mark": {"type": "line", "strokeWidth": 3, "clip": true}}
   ]
  }
 ]
}
],
"spacing": 546,
"bounds": "flush",
"resolve": {"scale": {"color": "independent"}}
}
